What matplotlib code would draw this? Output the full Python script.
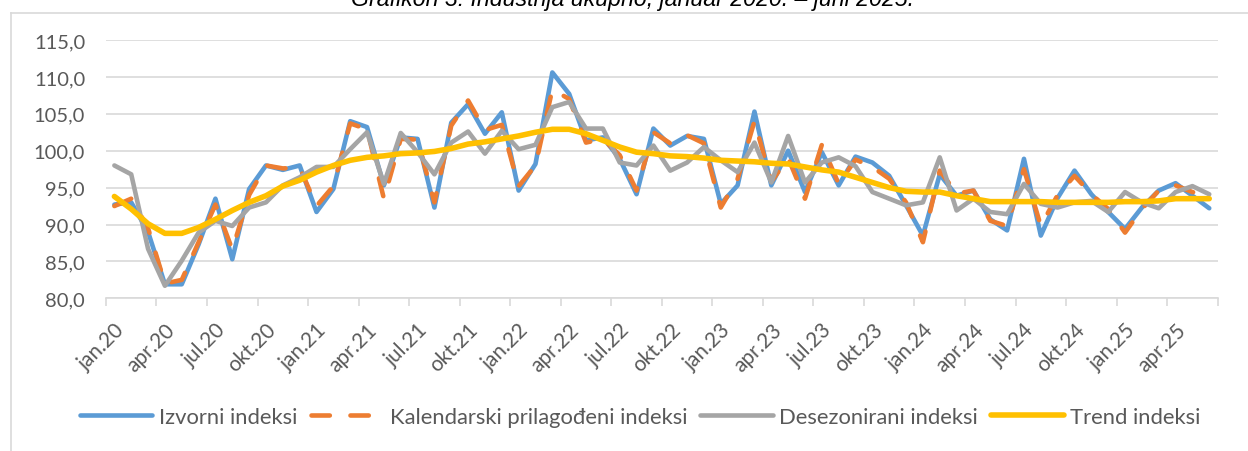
import matplotlib
matplotlib.use("Agg")
import matplotlib.pyplot as plt
from matplotlib.lines import Line2D

plt.rcParams["font.family"] = ["Lato", "DejaVu Sans"]

# --- data: januar 2020 - juni 2025 (66 mjeseci) ---
months = ["jan", "feb", "mar", "apr", "maj", "jun", "jul", "avg", "sep", "okt", "nov", "dec"]
years = [20, 21, 22, 23, 24, 25]
periods = [f"{m}.{y}" for y in years for m in months][:66]

izvorni = [92.7, 93.0, 89.0, 81.9, 81.9, 87.3, 93.5, 85.3, 94.8, 98.0, 97.4, 98.0,
           91.7, 94.8, 104.0, 103.2, 95.3, 101.8, 101.6, 92.3, 103.8, 106.3, 102.3, 105.2,
           94.6, 98.2, 110.6, 107.7, 101.4, 101.8, 98.9, 94.1, 103.0, 100.7, 102.0, 101.6,
           92.8, 95.3, 105.3, 95.3, 100.0, 94.4, 99.8, 95.3, 99.2, 98.4, 96.6, 92.6,
           88.5, 96.8, 93.9, 94.6, 90.7, 89.2, 98.9, 88.5, 93.6, 97.3, 94.1, 91.7,
           89.4, 92.3, 94.6, 95.6, 93.9, 92.2]
kalendarski = [92.5, 93.5, 89.5, 82.0, 82.5, 87.6, 92.7, 86.6, 94.0, 98.0, 97.6, 97.7,
               92.5, 95.2, 103.7, 102.9, 93.5, 101.6, 101.5, 93.0, 103.4, 106.8, 102.8, 103.5,
               95.2, 98.0, 108.3, 107.0, 101.1, 101.6, 99.4, 94.6, 102.5, 101.0, 102.1, 101.0,
               92.3, 96.2, 104.0, 95.8, 99.0, 93.5, 100.8, 95.5, 98.8, 97.8, 96.2, 93.0,
               87.6, 97.3, 94.2, 94.6, 90.5, 89.8, 97.5, 89.8, 94.0, 96.6, 94.1, 92.1,
               88.9, 92.1, 94.6, 95.3, 94.4, 93.8]
desezonirani = [98.0, 96.8, 86.7, 81.7, 85.1, 88.9, 90.5, 89.8, 92.3, 93.0, 95.3, 96.4,
                97.8, 97.8, 100.2, 102.5, 95.5, 102.4, 99.8, 96.8, 101.1, 102.6, 99.6, 102.7,
                100.2, 100.8, 105.9, 106.6, 103.0, 103.0, 98.4, 98.0, 100.7, 97.3, 98.4, 100.5,
                98.7, 97.1, 101.1, 95.7, 102.0, 95.7, 98.4, 99.1, 97.9, 94.4, 93.5, 92.6,
                93.0, 99.1, 91.9, 93.5, 91.7, 91.4, 95.5, 92.8, 92.3, 93.0, 93.2, 91.7,
                94.4, 93.0, 92.2, 94.4, 95.2, 94.1]
trend = [93.8, 92.1, 90.1, 88.8, 88.8, 89.6, 90.7, 91.9, 93.0, 93.9, 95.2, 96.0,
         97.1, 98.0, 98.7, 99.1, 99.3, 99.6, 99.7, 99.9, 100.3, 100.9, 101.2, 101.6,
         102.0, 102.5, 102.9, 102.9, 102.3, 101.4, 100.5, 99.8, 99.6, 99.3, 99.2, 99.0,
         98.7, 98.6, 98.5, 98.3, 98.2, 97.8, 97.4, 97.1, 96.4, 95.7, 95.0, 94.5,
         94.4, 94.4, 93.9, 93.5, 93.1, 93.1, 93.1, 93.1, 93.0, 93.0, 93.0, 93.0,
         93.1, 93.1, 93.2, 93.5, 93.5, 93.5]

series_names = ["Izvorni indeksi", "Kalendarski prilagođeni indeksi",
                "Desezonirani indeksi", "Trend indeksi"]

c_blue = "#5B9BD5"
c_orange = "#ED7D31"
c_grey = "#A5A5A5"
c_yellow = "#FFC000"
c_grid = "#D9D9D9"
c_text = "#595959"
lw_main = 3.3
lw_trend = 4.0
dash = (4.0, 4.5)

fig = plt.figure(figsize=(12.48, 4.52), dpi=100)
ax = fig.add_axes([0.0849, 0.3378, 0.8908, 0.5715])

x = list(range(len(periods)))
ax.plot(x, izvorni, color=c_blue, lw=lw_main, solid_capstyle="round", solid_joinstyle="round", zorder=3)
ax.plot(x, kalendarski, color=c_orange, lw=lw_main, dashes=dash,
        dash_capstyle="round", dash_joinstyle="round", zorder=4)
ax.plot(x, desezonirani, color=c_grey, lw=lw_main, solid_capstyle="round", solid_joinstyle="round", zorder=5)
ax.plot(x, trend, color=c_yellow, lw=lw_trend, solid_capstyle="round", solid_joinstyle="round", zorder=6)

ax.set_xlim(-0.5, len(periods) - 0.5)
ax.set_ylim(80, 115)
ax.set_yticks(range(80, 116, 5))
ax.set_yticklabels([f"{v},0" for v in range(80, 116, 5)])
ax.grid(axis="y", color=c_grid, lw=1.2)
ax.set_axisbelow(True)

ax.set_xticks(x[::3])
ax.set_xticklabels(periods[::3], rotation=45, ha="right", rotation_mode="anchor")
ax.set_xticks([i - 0.5 for i in range(0, len(periods) + 1, 3)], minor=True)
ax.tick_params(axis="x", which="major", length=0, pad=15, labelsize=15, colors=c_text)
ax.tick_params(axis="x", which="minor", length=6, width=1.2, color=c_grid)
ax.tick_params(axis="y", length=0, pad=15, labelsize=14.5, colors=c_text)

for s in ["left", "right", "top"]:
    ax.spines[s].set_visible(False)
ax.spines["bottom"].set_color(c_grid)
ax.spines["bottom"].set_linewidth(1.2)

# chart frame (partly cut off on the right and bottom)
fig.add_artist(Line2D([11 / 1248, 11 / 1248], [0, 1 - 14 / 452], color=c_grid, lw=1.2))
fig.add_artist(Line2D([11 / 1248, 1], [1 - 14 / 452, 1 - 14 / 452], color=c_grid, lw=1.2))

# title, cut off at the top like in the source image
fig.text(0.507, 1 - 6 / 452, "Grafikon 3: Industrija ukupno, januar 2020. – juni 2025.",
         ha="center", va="baseline", fontsize=16.7, style="italic",
         family=["Liberation Sans", "DejaVu Sans"], color="black")

handles = [
    Line2D([], [], color=c_blue, lw=lw_main, solid_capstyle="round"),
    Line2D([], [], color=c_orange, lw=lw_main, dashes=dash, dash_capstyle="round"),
    Line2D([], [], color=c_grey, lw=lw_main, solid_capstyle="round"),
    Line2D([], [], color=c_yellow, lw=lw_trend, solid_capstyle="round"),
]
leg = fig.legend(handles, series_names, loc="center", bbox_to_anchor=(0.513, 0.075),
                 ncol=4, frameon=False, fontsize=15.8, handlelength=3.3,
                 handletextpad=0.3, columnspacing=0.6)
for t in leg.get_texts():
    t.set_color(c_text)

fig.savefig("out.png", dpi=100, facecolor="white")
